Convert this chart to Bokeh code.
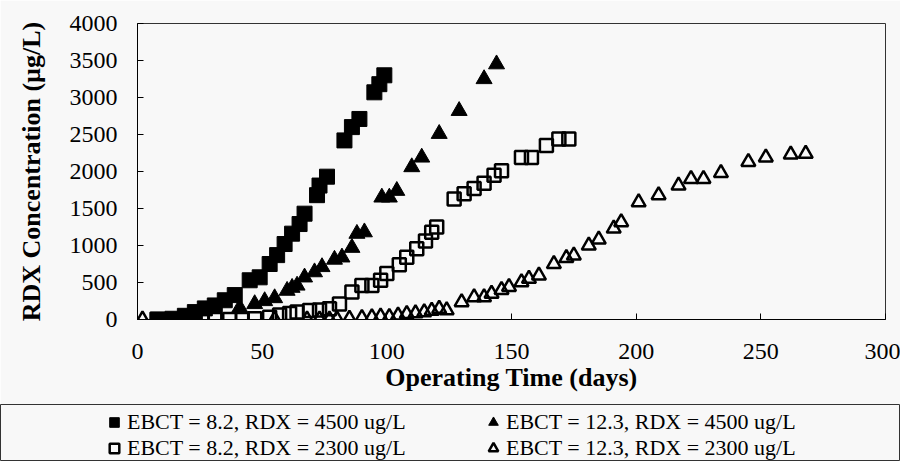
from bokeh.plotting import figure
from bokeh.models import Range1d, LinearAxis, Legend, LegendItem, FixedTicker
from bokeh.layouts import column
from bokeh.embed import file_html
from bokeh.resources import INLINE

# ---- data ----
x_ticks = [0, 50, 100, 150, 200, 250, 300]
y_ticks = [0, 500, 1000, 1500, 2000, 2500, 3000, 3500, 4000]

# EBCT = 8.2, RDX = 4500 ug/L  (filled squares)
days_a = [8, 14, 19, 23, 27, 31, 35, 39, 45, 49, 53, 56, 59, 62, 65, 67, 72, 73, 76,
          83, 86, 89, 95, 97, 99]
rdx_a = [0, 10, 50, 100, 150, 190, 260, 330, 530, 570, 750, 870, 1020, 1160, 1290,
         1430, 1680, 1810, 1930, 2420, 2600, 2710, 3070, 3180, 3300]

# EBCT = 12.3, RDX = 4500 ug/L  (filled triangles)
days_b = [41, 47, 51, 55, 60, 62, 64, 67, 71, 74, 79, 82, 86, 88, 91, 98, 101, 104,
          110, 114, 121, 129, 139, 144]
rdx_b = [160, 210, 250, 290, 390, 430, 460, 570, 640, 710, 810, 840, 970, 1160, 1180,
         1650, 1650, 1740, 2060, 2190, 2510, 2820, 3250, 3450]

# EBCT = 8.2, RDX = 2300 ug/L  (open squares)
days_c = [8, 14, 20, 26, 31, 37, 42, 47, 53, 57, 61, 64, 69, 73, 77, 81, 86, 90, 94,
          97.5, 100, 105, 108, 112, 115.5, 118, 120, 127, 131, 135, 139, 143, 146,
          154, 158, 164, 169, 173]
rdx_c = [0, 0, 0, 0, 0, 0, 0, 10, 30, 60, 80, 100, 120, 130, 145, 210, 370, 460, 460,
         530, 620, 740, 840, 955, 1060, 1180, 1250, 1630, 1700, 1770, 1840, 1950, 2010,
         2190, 2190, 2350, 2440, 2440]

# EBCT = 12.3, RDX = 2300 ug/L  (open triangles)
days_d = [2, 55, 68, 73, 77, 80, 85, 90, 94, 97.5, 101, 104.5, 108, 111.5, 115, 118,
          121, 124, 130, 135, 139, 142, 146, 149, 154, 157, 161, 167, 172, 175, 181,
          185, 191, 194, 201, 209, 217, 222, 227, 234, 245, 252, 262, 268]
rdx_d = [0, 0, 0, 0, 0, 5, 10, 20, 30, 40, 35, 55, 75, 85, 100, 120, 145, 125, 235,
         300, 300, 350, 400, 440, 505, 550, 595, 750, 830, 865, 1000, 1080, 1230,
         1315, 1585, 1680, 1810, 1900, 1900, 1980, 2130, 2190, 2230, 2240]

labels = ["EBCT = 8.2, RDX = 4500 ug/L", "EBCT = 12.3, RDX = 4500 ug/L",
          "EBCT = 8.2, RDX = 2300 ug/L", "EBCT = 12.3, RDX = 2300 ug/L"]

BG = "#f8f8f8"
FONT = "Liberation Serif"

styles = [dict(marker="square", fill_color="black", line_color="black"),
          dict(marker="triangle", fill_color="black", line_color="black"),
          dict(marker="square", fill_color=None, line_color="black", line_width=2.5),
          dict(marker="triangle", fill_color=None, line_color="black", line_width=2.5)]
sizes = [15, 16, 13, 14]
series = [(days_a, rdx_a), (days_b, rdx_b), (days_c, rdx_c), (days_d, rdx_d)]

# ---- main chart ----
p = figure(width=900, height=404, output_backend="svg", toolbar_location=None,
           x_range=Range1d(0, 300), y_range=Range1d(0, 4000),
           x_axis_location=None, y_axis_location=None,
           min_border_left=137, min_border_right=15, min_border_top=23,
           min_border_bottom=85)
p.background_fill_color = BG
p.border_fill_color = BG
p.outline_line_color = "#333333"
p.outline_line_width = 1
p.xgrid.visible = False
p.ygrid.visible = False

xaxis = LinearAxis(ticker=FixedTicker(ticks=x_ticks), axis_label="Operating Time (days)")
yaxis = LinearAxis(ticker=FixedTicker(ticks=y_ticks), axis_label="RDX Concentration (µg/L)")
for ax in (xaxis, yaxis):
    ax.major_tick_in = 6
    ax.major_tick_out = 0
    ax.minor_tick_line_color = None
    ax.axis_line_color = "black"
    ax.major_tick_line_color = "black"
    ax.major_label_text_font = FONT
    ax.major_label_text_font_size = "24px"
    ax.major_label_text_color = "black"
    ax.axis_label_text_font = FONT
    ax.axis_label_text_font_size = "26px"
    ax.axis_label_text_font_style = "bold"
    ax.axis_label_text_color = "black"
xaxis.major_label_standoff = 24
xaxis.axis_label_standoff = 1
yaxis.major_label_standoff = 20
yaxis.axis_label_standoff = 21
p.add_layout(xaxis, "below")
p.add_layout(yaxis, "left")

for (xs, ys), st, sz in zip(series, styles, sizes):
    p.scatter(xs, ys, size=sz, **st)

# ---- legend panel (same series; its ranges keep the points out of view) ----
q = figure(width=900, height=57, output_backend="svg", toolbar_location=None,
           x_range=Range1d(0, 300), y_range=Range1d(-2, -1),
           x_axis_location=None, y_axis_location=None,
           min_border_left=0, min_border_right=0, min_border_top=0, min_border_bottom=0)
q.background_fill_color = BG
q.border_fill_color = BG
q.outline_line_color = "#333333"
q.outline_line_width = 1
q.xgrid.visible = False
q.ygrid.visible = False
for fig in (p, q):
    try:
        fig.frame_align = False
    except Exception:
        pass

lrs = [q.scatter(xs, ys, size=sz, **st) for (xs, ys), st, sz in zip(series, styles, sizes)]

legend = Legend(items=[LegendItem(label=lab, renderers=[r]) for lab, r in zip(labels, lrs)],
                orientation="horizontal", ncols=2, location=(102, 0),
                glyph_width=24, glyph_height=24, label_standoff=1, label_width=354,
                spacing=0, padding=4, margin=0,
                border_line_color=None, background_fill_alpha=0,
                label_text_font=FONT, label_text_font_size="22px",
                label_text_color="black")
q.add_layout(legend, "center")

layout = column(p, q, spacing=0)
open("out.html", "w").write(file_html(layout, INLINE))
